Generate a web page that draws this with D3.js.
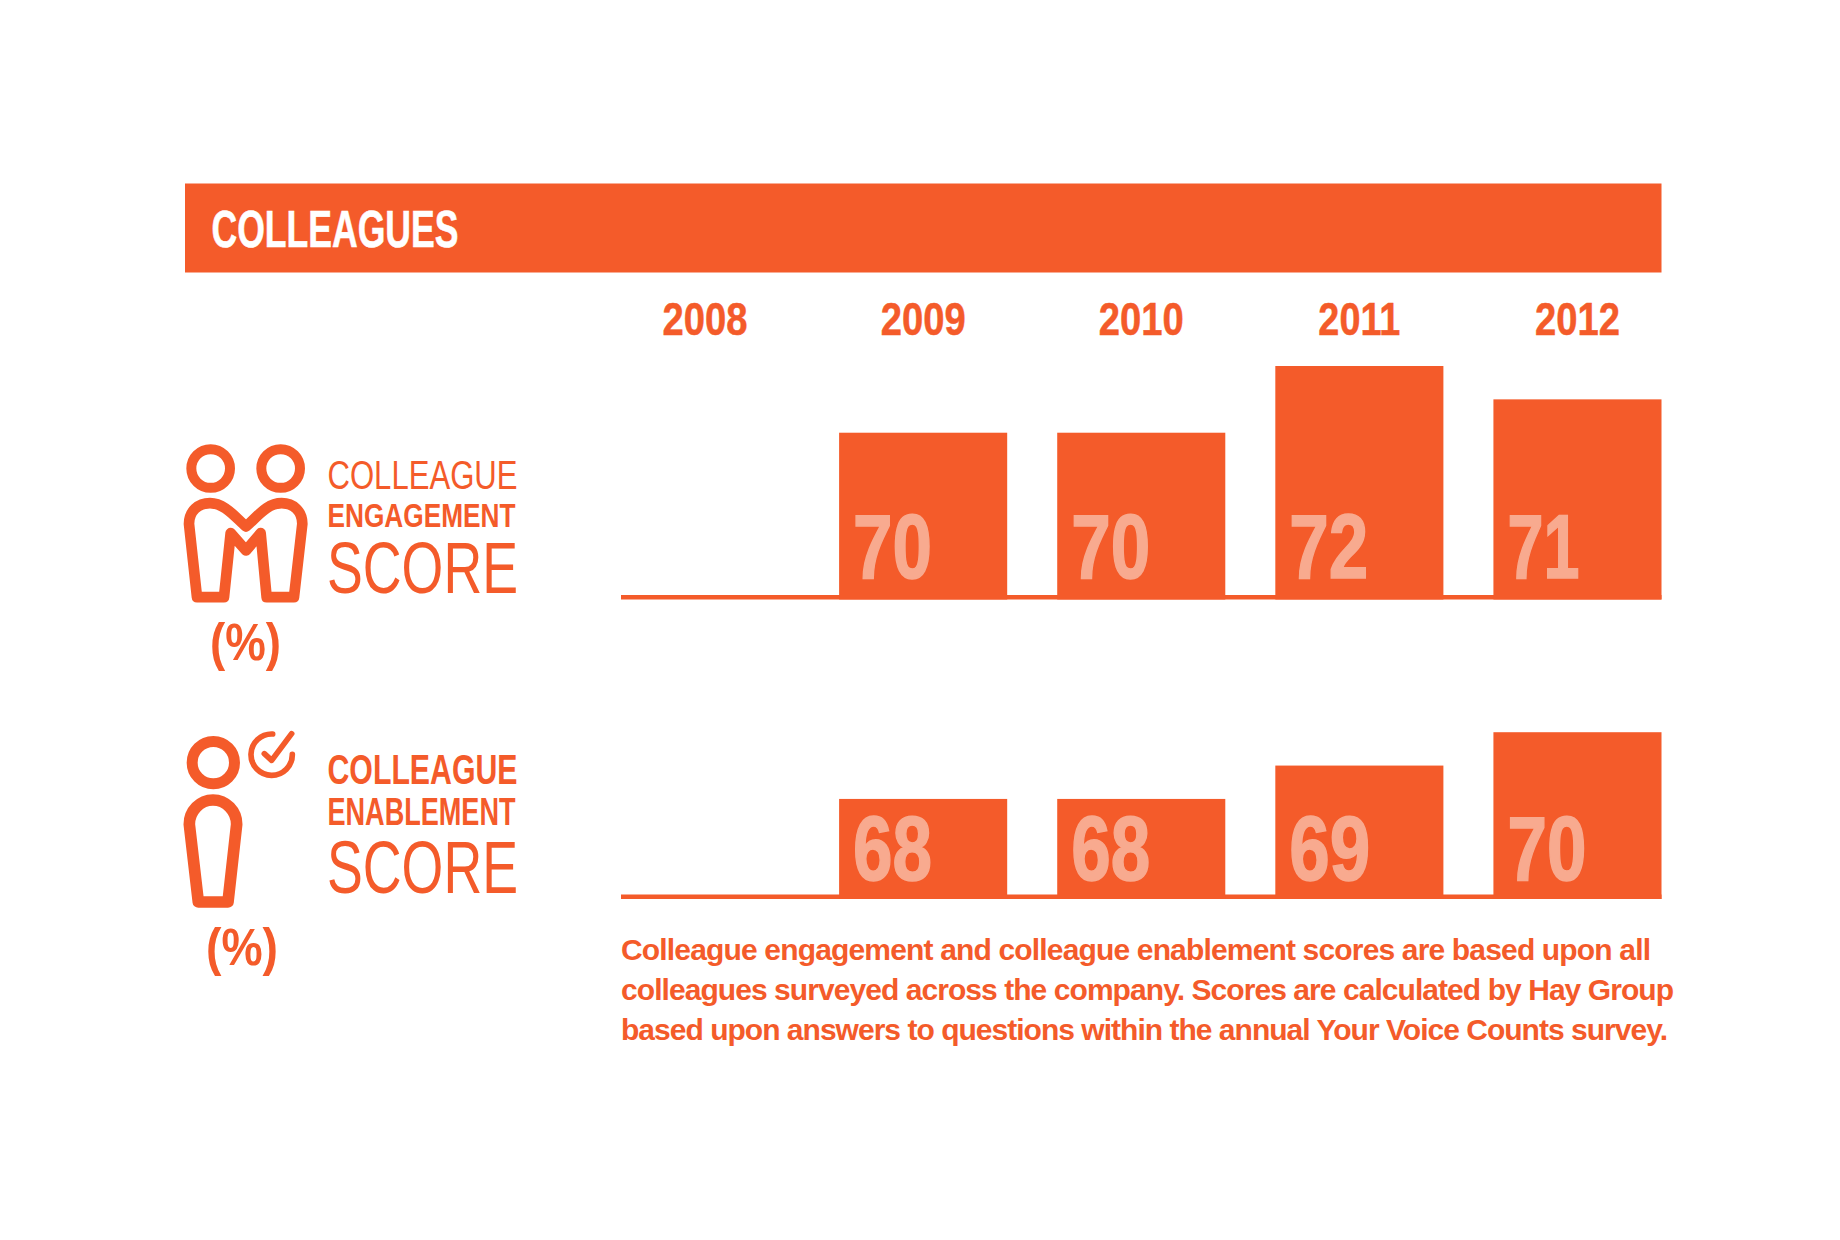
<!DOCTYPE html>
<html><head><meta charset="utf-8">
<style>html,body{margin:0;padding:0;background:#fff}svg{display:block}</style>
<script src="https://d3js.org/d3.v7.min.js"></script></head>
<body><svg id="c" width="1840" height="1240"></svg>
<script>
const years = ["2008","2009","2010","2011","2012"];
const engagement = [null,70,70,72,71];
const enablement = [null,68,68,69,70];
const title = "COLLEAGUES";
const footnote = [
 "Colleague engagement and colleague enablement scores are based upon all",
 "colleagues surveyed across the company. Scores are calculated by Hay Group",
 "based upon answers to questions within the annual Your Voice Counts survey."];

const ORANGE="#f45b2a", PALE="#f8aa8f";
const NARROW="'Liberation Sans Narrow','Liberation Sans',sans-serif";
const svg=d3.select("#c");
const x=d3.scaleBand().domain(years).range([621,1661.5]).paddingInner(50/218).paddingOuter(0).align(0);
const h=d3.scaleLinear().domain([65,72]).range([0,233.5]);

function label(t,xp,base,size,weight,width,fill,fam,adj){
  return svg.append("text").attr("x",xp).attr("y",base).attr("font-family",fam||NARROW)
   .attr("font-size",size).attr("font-weight",weight).attr("fill",fill||ORANGE)
   .attr("textLength",width).attr("lengthAdjust",adj||"spacingAndGlyphs").text(t);
}

svg.append("rect").attr("x",185).attr("y",183.5).attr("width",1476.5).attr("height",89).attr("fill",ORANGE);
label(title,211.5,246.5,51,700,247,"#fff").attr("stroke","#fff").attr("stroke-width",0.6);

const axis=svg.append("g").attr("transform","translate(0,335)")
  .call(d3.axisTop(x).tickSize(0).tickPadding(0));
axis.select(".domain").remove();
axis.selectAll("text").attr("font-family",NARROW).attr("font-size",47).attr("font-weight",700)
  .attr("fill",ORANGE).attr("stroke",ORANGE).attr("stroke-width",0.5)
  .attr("textLength",d=>d==="2011"?82:85).attr("lengthAdjust","spacingAndGlyphs").attr("dy",0);

function row(values,base,labelOffset){
  svg.append("rect").attr("x",x.range()[0]).attr("y",base-4.5)
    .attr("width",x.range()[1]-x.range()[0]).attr("height",4.5).attr("fill",ORANGE);
  const data=values.map((v,i)=>({y:years[i],v})).filter(d=>d.v!==null);
  svg.append("g").selectAll("rect").data(data).join("rect")
    .attr("x",d=>x(d.y)).attr("y",d=>base-h(d.v))
    .attr("width",x.bandwidth()).attr("height",d=>h(d.v)).attr("fill",ORANGE);
  svg.append("g").selectAll("text").data(data).join("text")
    .attr("x",d=>x(d.y)+14).attr("y",base-labelOffset)
    .attr("font-family",NARROW).attr("font-size",91).attr("font-weight",700).attr("fill",PALE)
    .attr("stroke",PALE).attr("stroke-width",1.6)
    .attr("textLength",d=>d.v===71?72:(d.v===69?81:79)).attr("lengthAdjust","spacingAndGlyphs")
    .text(d=>d.v);
}
row(engagement,599.5,21.5);
row(enablement,899,19.5);

label("COLLEAGUE",327.5,489,41.5,400,190);
label("ENGAGEMENT",327.5,527,33,700,188);
label("SCORE",327,593,73,400,191);
label("(%)",210,660,52,700,71);

label("COLLEAGUE",327.5,784,43,700,190);
label("ENABLEMENT",327.5,825,38,700,188);
label("SCORE",327,893,75,400,191);
label("(%)",206,965,52,700,72);

const fn=[1030,1053,1047];
footnote.forEach((t,i)=>label(t,621,960+i*40,30,700,fn[i],ORANGE,"'Liberation Sans',sans-serif","spacing"));

const i1=svg.append("g").attr("transform","translate(160,420.5) scale(0.3333)")
  .attr("fill","none").attr("stroke",ORANGE).attr("stroke-linejoin","round").attr("stroke-linecap","round");
i1.append("circle").attr("cx",152).attr("cy",144).attr("r",58).attr("stroke-width",30);
i1.append("circle").attr("cx",362).attr("cy",144).attr("r",58).attr("stroke-width",30);
i1.append("path").attr("stroke-width",32).attr("d",
 "M111,530 L87,310 C87,272 115,248 150,248 C195,248 225,290 258,318 C291,290 320,248 365,248 C400,248 427,272 427,310 L402,530 L320,530 L302,338 L258,390 L212,338 L192,530 Z");

const i2=svg.append("g").attr("transform","translate(160,711) scale(0.3333)")
  .attr("fill","none").attr("stroke",ORANGE).attr("stroke-linejoin","round").attr("stroke-linecap","round");
i2.append("circle").attr("cx",160).attr("cy",155).attr("r",63.5).attr("stroke-width",33);
i2.append("path").attr("stroke-width",35).attr("d","M115,573 L88,340 C88,300 120,267 159,267 C198,267 230,300 230,340 L204,573 Z");
i2.append("path").attr("stroke-width",17).attr("d","M338,69 A62,62 0 1 0 397,130");
i2.append("path").attr("stroke-width",17).attr("d","M313,128 L335,148 L395,68");
</script></body></html>
